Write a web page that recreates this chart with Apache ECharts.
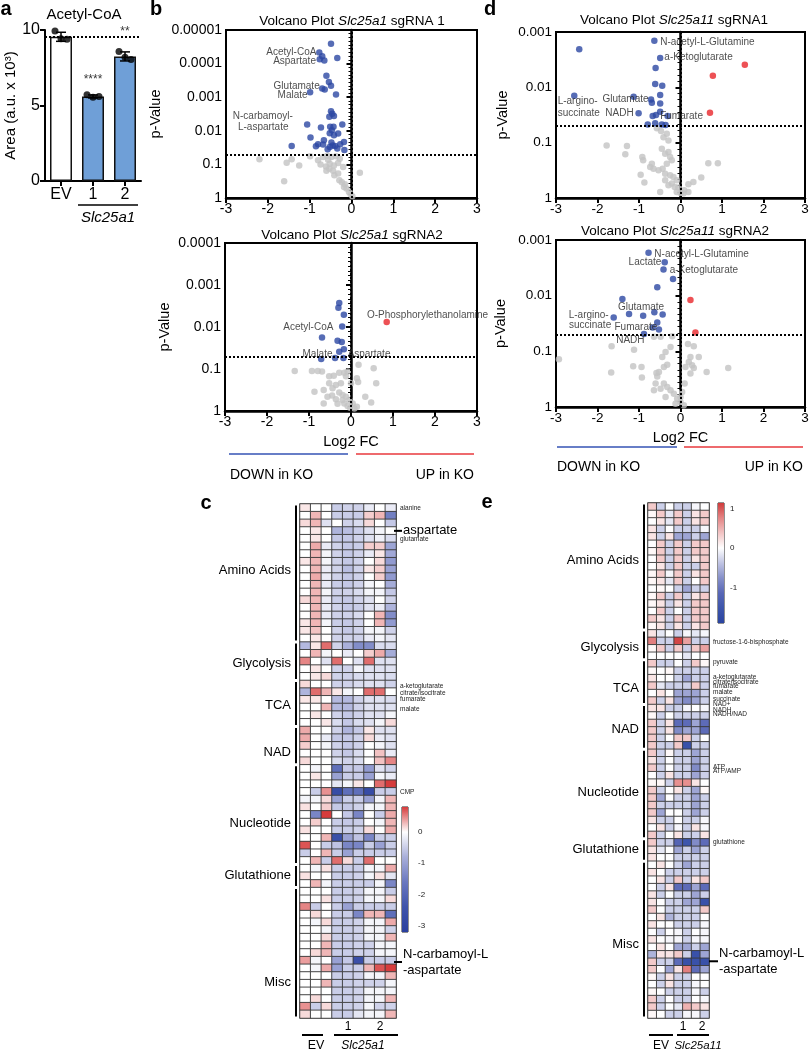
<!DOCTYPE html>
<html><head><meta charset="utf-8">
<script src="https://cdn.jsdelivr.net/npm/echarts@6/dist/echarts.min.js"></script>
<style>html,body{margin:0;padding:0;background:#fff}#chart{width:809px;height:1050px}</style>
</head><body><div id="chart"></div>
<script>
// ================= DATA =================
// Panel a
const barCats = ['EV', '1', '2'];
const barValues = [9.55, 5.6, 8.25];
const barErr = [0.3, 0.1, 0.3];
const barPoints = [[0, 9.93], [0, 9.42], [0, 9.38], [1, 5.72], [1, 5.55], [1, 5.6], [2, 8.57], [2, 8.2], [2, 8.05]];
const sigLabels = [[1, 6.7, '****'], [2, 9.9, '**']];

// Volcano plots: [log2FC, -log10(p)]
const pTickLabels = ['1', '0.1', '0.01', '0.001', '0.0001', '0.00001'];
const pThreshold = 0.05;

const bTopBlue = [[-0.49,4.59],[-0.77,4.33],[-0.70,4.22],[-0.76,4.13],[-0.65,4.09],[-0.34,4.17],[-0.60,3.64],[-0.54,3.45],[-0.49,3.34],[-0.70,3.26],[-0.64,3.23],[-0.99,3.15],[-0.37,3.08],[-0.49,2.58],[-0.46,2.51],[-0.42,2.44],[-0.53,2.42],[-1.06,2.19],[-0.73,2.10],[-0.51,2.12],[-0.43,2.12],[-0.22,2.19],[-0.47,2.02],[-0.52,1.93],[-0.42,1.87],[-0.32,1.92],[-0.98,1.80],[-0.66,1.72],[-0.80,1.60],[-0.48,1.65],[-0.39,1.55],[-0.27,1.60],[-0.18,1.67],[-0.85,1.54],[-0.52,1.52],[-0.57,1.45],[-1.43,1.55],[-0.17,1.43],[-0.34,1.47],[-0.68,1.59],[-0.45,1.56]];
const bTopRed = [];
const bTopGrey = [[-2.20,1.15],[-1.55,1.05],[-1.43,1.15],[-1.25,0.97],[-1.61,0.50],[-0.99,1.24],[-0.80,1.12],[-0.68,1.22],[-0.58,1.26],[-0.48,1.22],[-0.37,1.24],[-0.28,1.17],[-0.74,1.00],[-0.61,0.94],[-0.52,1.02],[-0.42,0.97],[-0.32,1.04],[-0.53,0.87],[-0.44,0.81],[-0.32,0.73],[-0.20,0.92],[-0.29,0.53],[-0.23,0.47],[-0.16,0.41],[-0.12,0.28],[-0.06,0.18],[-0.02,0.11],[0.02,0.05],[0.20,0.75],[-0.18,0.33],[-0.41,0.68],[-0.60,0.81],[-0.56,1.14]];
const bTopNotes = [[-0.84,4.33,'Acetyl-CoA','right'],[-0.85,4.06,'Aspartate','right'],[-0.76,3.34,'Glutamate','right'],[-1.05,3.06,'Malate','right'],[-2.12,2.42,'N-carbamoyl-','center'],[-2.11,2.10,'L-aspartate','center']];

const bBotBlue = [[-0.28,2.57],[-0.30,2.46],[-0.17,2.29],[-0.21,2.01],[-0.69,1.75],[-0.32,1.67],[-0.22,1.64],[-0.17,1.47],[-0.28,1.41],[-0.38,1.26],[-0.18,1.26],[-0.71,1.24]];
const bBotRed = [[0.85,2.12]];
const bBotGrey = [[-1.34,0.95],[-0.93,0.95],[-0.79,0.95],[-0.69,0.94],[-0.52,0.83],[-0.41,0.84],[-0.28,0.91],[-0.16,0.91],[-0.08,0.94],[-0.12,0.83],[0.18,1.10],[0.54,1.02],[0.60,0.66],[0.14,0.78],[0.17,0.69],[-0.87,0.46],[-0.65,0.50],[-0.52,0.66],[-0.36,0.62],[-0.28,0.44],[-0.20,0.38],[-0.12,0.34],[-0.04,0.26],[0.04,0.18],[-0.20,0.26],[-0.36,0.28],[-0.65,0.18],[-0.02,0.08],[0.08,0.06],[0.14,0.10],[0.34,0.34],[0.48,0.20],[-0.45,0.37],[0.00,0.66],[-0.24,0.66],[-0.44,0.54],[-0.16,0.18],[-0.08,0.12],[-0.32,0.17],[-0.56,0.34]];
const bBotNotes = [[0.38,2.27,'O-Phosphorylethanolamine','left'],[-0.42,2.0,'Acetyl-CoA','right'],[-0.44,1.36,'Malate','right'],[-0.08,1.36,'Aspartate','left']];

const dTopBlue = [[-0.63,2.84],[-2.44,2.69],[-0.49,2.53],[-0.60,2.35],[-0.61,2.06],[-0.44,2.03],[-2.56,1.85],[-1.13,1.83],[-0.49,1.86],[-0.71,1.78],[-0.69,1.72],[-0.49,1.71],[-1.01,1.53],[-0.49,1.56],[-0.67,1.48],[-0.59,1.50],[-0.31,1.48],[-0.79,1.33],[-0.61,1.35],[-0.45,1.33],[-0.36,1.32]];
const dTopRed = [[1.55,2.41],[0.78,2.21],[0.71,1.54]];
const dTopGrey = [[-1.78,0.95],[-1.29,0.94],[-1.33,0.79],[-0.92,0.74],[-0.90,0.68],[-0.96,0.42],[-0.87,0.28],[-0.73,0.56],[0.90,0.63],[0.67,0.63],[0.50,0.37],[0.31,0.29],[0.19,0.25],[0.09,0.14],[0.00,0.09],[-0.57,1.26],[-0.47,1.21],[-0.41,1.10],[-0.33,1.16],[-0.29,1.04],[-0.45,0.89],[-0.37,0.80],[-0.29,0.83],[-0.25,0.74],[-0.21,0.68],[-0.33,0.62],[-0.43,0.53],[-0.53,0.50],[-0.37,0.44],[-0.25,0.41],[-0.17,0.38],[-0.09,0.32],[-0.21,0.26],[-0.29,0.23],[-0.14,0.20],[-0.05,0.19],[-0.49,0.11],[-0.65,0.53],[-0.69,0.62],[-0.37,0.32],[-0.09,0.11],[0.07,0.08],[0.19,0.11]];
const dTopNotes = [[-0.49,2.82,'N-acetyl-L-Glutamine','left'],[-0.39,2.54,'a-Ketoglutarate','left'],[-2.96,1.74,'L-argino-','left'],[-2.96,1.53,'succinate','left'],[-0.77,1.78,'Glutamate','right'],[-1.13,1.53,'NADH','right'],[-0.49,1.47,'Fumarate','left']];

const dBotBlue = [[-0.77,2.77],[-0.38,2.60],[-0.41,2.47],[-0.18,2.30],[-0.56,2.15],[-1.40,1.94],[-1.24,1.67],[-1.61,1.61],[-0.90,1.64],[-0.63,1.70],[-0.43,1.66],[-0.56,1.52],[-0.67,1.43],[-0.52,1.39],[-0.88,1.31]];
const dBotRed = [[0.24,1.92],[0.36,1.34]];
const dBotGrey = [[-2.93,0.86],[-1.66,1.09],[-1.67,0.62],[-1.14,0.73],[-1.12,1.03],[-0.94,0.72],[-0.93,0.53],[-0.58,0.61],[0.18,1.13],[0.32,1.09],[0.44,0.90],[0.32,0.70],[0.63,0.63],[1.15,0.70],[-0.52,0.63],[-0.56,0.55],[-0.44,0.90],[-0.36,0.99],[-0.24,1.08],[-0.40,0.72],[-0.32,0.76],[-0.48,1.26],[-0.64,1.26],[-0.20,1.27],[0.20,0.81],[0.12,0.72],[0.24,0.60],[0.10,0.42],[0.04,0.27],[0.00,0.18],[-0.08,0.15],[-0.16,0.24],[-0.24,0.30],[-0.32,0.36],[-0.40,0.42],[-0.48,0.33],[-0.60,0.42],[-0.64,0.30],[-0.36,0.18],[0.00,0.09],[0.08,0.03],[-0.12,0.06],[0.24,0.90],[0.28,0.75]];
const dBotNotes = [[-0.63,2.75,'N-acetyl-L-Glutamine','left'],[-0.46,2.60,'Lactate','right'],[-0.26,2.45,'a-Ketoglutarate','left'],[-0.95,1.80,'Glutamate','center'],[-1.73,1.64,'L-argino-','right'],[-1.67,1.46,'succinate','right'],[-1.59,1.44,'Fumarate','left'],[-1.55,1.20,'NADH','left']];

// Heatmap c (Slc25a1): columns EV x3, sgRNA1 x3, sgRNA2 x3
const heatCCols = ['EV-1','EV-2','EV-3','1-1','1-2','1-3','2-1','2-2','2-3'];
const heatC = [
[0.1,0,0,-0.5,-0.45,-0.45,-0.2,0,-0.2],
[0,0.3,0,-0.5,-0.5,-0.5,0.2,0.3,-1.5],
[0.15,0.3,-0.3,0,-0.45,-0.35,0.15,0,-0.55],
[0,0.1,0,-0.75,-0.65,-0.5,-0.3,-0.1,0],
[0,0.1,0,-0.55,-0.55,-0.45,-0.3,-0.15,-0.35],
[0,0.35,-0.2,-0.45,-0.55,-0.5,0.2,0.2,-0.95],
[0,0.3,-0.1,-0.45,-0.55,-0.45,-0.2,0.1,-0.9],
[0.1,0.3,-0.1,-0.45,-0.55,-0.45,0,0.15,-1.1],
[0,0.3,-0.2,-0.45,-0.65,-0.45,0.1,0.2,-1.0],
[0,0.35,-0.2,-0.45,-0.55,-0.45,0,0.2,-1.1],
[0,0.3,-0.2,-0.5,-0.55,-0.45,-0.1,0,-0.85],
[0,0.3,-0.1,-0.45,-0.45,-0.35,-0.1,-0.1,-0.55],
[0.15,0.3,-0.2,-0.5,-0.55,-0.45,-0.3,0,-0.45],
[0,0.3,-0.2,-0.45,-0.55,-0.5,-0.3,-0.2,-0.75],
[0,0.3,-0.2,-0.45,-0.45,-0.35,0,0.3,-1.3],
[0.1,0.3,-0.1,-0.5,-0.55,-0.45,0,0.3,-1.1],
[0.1,0.25,0,-0.45,-0.55,-0.45,-0.1,-0.1,-0.45],
[0,0.1,0,-0.45,-0.45,-0.45,-0.2,-0.1,-0.25],
[-0.7,0.1,0.6,-0.45,-0.8,-1.3,-1.3,-0.35,-0.35],
[0,0.3,-0.1,0,-0.2,0,0.2,0.35,-0.85],
[0.5,0,-0.3,0.6,0,-0.3,0.6,-0.3,-0.3],
[0,0.1,0,-0.45,-0.45,-0.1,-0.3,-0.3,-0.3],
[0,0.1,0.15,-0.45,-0.45,-0.35,-0.3,-0.3,-0.35],
[0.15,0,0,-0.45,-0.45,-0.35,-0.3,-0.3,-0.45],
[-0.75,0.6,0.3,0.1,-0.1,0,0.6,0.6,0],
[0.1,0.1,0,-0.7,-0.7,-0.45,-0.3,-0.3,-0.35],
[0,0,0.3,-0.7,-0.7,-0.45,-0.3,-0.3,-0.3],
[0,0.1,0,-0.45,-0.55,-0.45,-0.3,-0.3,-0.1],
[0,0,0.1,-0.35,-0.55,-0.35,-0.3,-0.1,0.15],
[0.35,0,0,-0.45,-0.75,-0.55,0.1,-0.3,-0.3],
[0.35,0,-0.2,-0.55,-0.55,-0.45,0.15,-0.2,-0.3],
[0.2,0,-0.1,-0.45,-0.55,-0.45,0,-0.1,-0.3],
[0,0,0,-0.45,-0.55,-0.35,0,0.25,-0.2],
[0.15,0,0,-0.35,-0.45,-0.35,0,0.25,0.5],
[0,-0.1,0,-1.8,-0.55,-0.55,-1.1,-0.3,-0.45],
[0,0.1,0,-1.0,-0.5,-0.5,-1.0,-0.1,-0.2],
[0,0,0,-0.25,-0.1,0.1,0,0.6,0.8],
[0,-0.5,0.45,-2.7,-1.8,-1.8,-2.7,-0.5,-0.5],
[-0.1,-0.1,0.15,-1.0,-0.5,-0.5,-1.0,-0.1,0.3],
[0.12,0,0.2,-0.55,-0.55,-0.45,-0.1,-0.1,0.3],
[0,-1.4,0.8,0,-0.55,-1.4,0,-0.5,0.35],
[0,0.2,0,-0.5,-0.55,-0.5,0,-0.1,0.3],
[0.12,0,0,-0.5,-0.5,-0.45,0.15,0,0.35],
[0,0,0.3,-2.6,-1.0,-0.6,-1.4,-0.5,-0.5],
[0.7,0,-0.5,-0.6,-1.4,-1.4,-0.5,-1.0,-0.5],
[-0.5,0,0.3,-0.5,-1.0,-0.5,-0.5,-0.5,-0.5],
[0,0.3,-0.5,0.6,0.15,-0.5,0.6,0,0],
[0,-0.1,0.12,-0.5,-0.5,-0.5,-0.1,-0.1,0.35],
[0.12,0,0,-0.5,-0.5,-0.45,-0.1,0.12,-0.25],
[0,0.3,-0.1,-0.5,-0.5,-0.5,-0.5,-0.1,-1.4],
[0,0,0,-0.5,-0.5,-0.45,-0.1,-0.1,-0.5],
[0,0,0.12,-0.5,-0.5,-0.45,-0.1,-0.1,0.15],
[0.5,-0.5,0,-0.5,-1.0,-0.5,-0.5,-0.5,-0.5],
[0,0.15,0,-0.5,-0.5,-1.4,0.3,0.3,-1.8],
[0,-0.1,0.15,-0.5,-0.5,-0.45,-0.1,-0.1,0.35],
[0,0,-0.1,-0.5,-0.5,-0.45,-0.1,-0.1,-0.45],
[0,0,0.15,-0.5,-0.5,-0.45,-0.1,-0.1,0.3],
[0,0,0.3,-0.5,-0.5,-0.45,-0.45,-0.1,-0.1],
[0,0.15,0.3,-0.5,-0.5,-0.45,-0.45,-0.1,-0.1],
[0.4,-0.1,0,-1.0,-0.55,-2.6,-0.5,-0.5,-0.5],
[0,-0.1,0.35,-1.0,-0.5,-0.5,0.3,0.7,0.8],
[0,0,0,-0.5,-0.5,-0.45,-0.1,-0.1,0.3],
[0,0,0.3,-0.5,-0.5,-0.45,-0.45,-0.45,-0.1],
[0,0,0,-0.5,-0.5,-0.45,-0.1,-0.1,-0.1],
[0,0.15,0,-0.5,-0.5,-0.45,-0.1,-0.1,0.3],
[0.45,-0.5,0.15,-0.5,-0.5,-0.45,-0.1,-0.45,-0.45],
[0.15,0,0,-0.5,-0.5,-0.25,-0.1,-0.1,0.3]
];
const heatCGroups = [['Amino Acids',0,17],['Glycolysis',18,22],['TCA',23,28],['NAD',29,33],['Nucleotide',34,46],['Glutathione',47,49],['Misc',50,66]];
const heatCSideLabels = [['alanine',0],['glutamate',4],['a-ketoglutarate',23],['citrate/isocitrate',24],['fumarate',25],['malate',26],['CMP',37]];
const heatCPointerLabels = [['aspartate',3],['N-carbamoyl-L\n-aspartate',59]];
const heatCScale = [-3, -2, -1, 0];

// Heatmap e (Slc25a11): columns EV x3, sgRNA1 x2, sgRNA2 x2
const heatECols = ['EV-1','EV-2','EV-3','1-1','1-2','2-1','2-2'];
const heatE = [
[0.35,-0.3,0,-0.3,-0.3,-0.05,0],
[0.05,0.35,-0.15,0.35,-0.3,0.18,0.35],
[0,0.18,-0.15,0.35,-0.3,0.18,0.35],
[0.18,-0.3,0,-0.3,-0.3,-0.3,-0.05],
[0.18,-0.3,0.18,-0.6,-0.6,-0.3,-0.6],
[0,0.35,-0.3,0.35,-0.3,0.35,0.35],
[0.05,0.35,-0.3,0.35,-0.3,0.35,0.35],
[0,0.35,-0.3,0.35,-0.3,0.18,0.35],
[0,0.18,-0.3,0.35,-0.3,-0.3,0.35],
[0.05,0.35,-0.05,0.35,-0.3,0.18,0.35],
[0.05,0.18,-0.15,0.35,-0.3,0,0.35],
[0,0.05,0,-0.3,-0.6,-0.3,-0.3],
[0.05,0.35,-0.3,0.35,-0.3,0.18,0.35],
[0.05,0.18,-0.3,0.18,-0.3,0.35,0.35],
[0,0.35,-0.3,0,-0.3,0.35,0.35],
[0.35,0.18,-0.3,0.35,-0.3,0.35,0.35],
[0.05,0.18,-0.3,0.18,-0.3,0.18,0.35],
[0.18,-0.15,0,-0.3,-0.05,-0.15,-0.05],
[0.8,-0.3,-0.3,1.1,0.6,-0.3,-0.3],
[0.05,0.35,-0.3,0.35,-0.3,0.35,0.6],
[0,0,0,0,-0.15,0,0],
[0.35,-0.3,-0.3,0,-0.3,0.35,0.05],
[0.05,0,0.05,-0.3,-0.3,-0.3,-0.3],
[0.18,0,0,-0.3,-0.6,-0.3,-0.3],
[0.35,-0.15,-0.3,-0.3,-0.3,0.35,-0.3],
[0,0.18,0,-0.6,-0.6,-0.6,-0.3],
[0.35,-0.3,0.18,-0.6,-0.8,-0.6,-0.3],
[0.18,0.18,-0.3,-0.3,-0.05,0,-0.05],
[0.05,-0.3,0,-0.3,-0.3,-0.3,-0.3],
[0.35,-0.3,0.18,-1.1,-1.1,-0.6,-1.1],
[0.35,-0.3,0.18,-0.8,-0.6,-0.6,-1.1],
[0.35,-0.3,0,0.35,0.35,-0.3,0],
[0.35,-0.3,-0.3,0.35,-1.6,-0.3,-0.3],
[0.35,-0.3,0.05,-0.3,-0.3,-0.6,-0.3],
[0.18,-0.3,0,-0.3,-0.3,-0.6,-0.3],
[0.35,-0.3,0,-0.3,-0.3,-0.8,-0.3],
[0,-0.3,0.18,-0.3,-0.3,-0.6,-0.3],
[0.05,0.05,-0.3,0.7,0.7,0.18,0],
[0.35,-0.3,0,0.18,-0.3,-0.6,0.05],
[0.35,-0.6,0,-0.3,-0.3,-0.6,-0.3],
[0.35,-0.3,-0.3,-0.3,-0.3,-0.6,-0.3],
[0.35,-0.6,0,0,-0.3,-0.6,-0.3],
[0.18,-0.3,-0.3,0,-0.3,-0.3,-0.05],
[0,0.18,-0.3,-0.05,-0.3,0.18,-0.05],
[0.35,-0.3,0,0.18,-0.3,-0.3,0.18],
[0.35,-0.3,-0.3,-1.2,-1.5,-0.8,-1.1],
[0.18,-0.15,0,-0.6,-0.3,-0.6,-0.3],
[0.18,0,0,-0.3,-0.3,-0.3,-0.3],
[0,0.18,0,-0.3,-0.6,-0.3,-0.3],
[0.18,0,-0.3,-0.3,-0.3,-0.3,-0.3],
[0,0.18,-0.3,0.35,-0.3,0.18,0.35],
[0,-0.3,0.18,-1.1,-1.1,-0.6,-1.1],
[0.18,-0.3,0,-0.3,-0.3,-0.6,-0.3],
[0.18,0,-0.3,-0.3,-0.6,-0.6,-1.6],
[0.35,0,-0.3,-0.3,-0.3,-0.3,0.35],
[0,0.18,-0.5,-0.3,-0.3,-0.3,0],
[0.18,0,0,-0.3,-0.3,-0.3,-0.05],
[0,-0.3,0,-0.05,-0.3,0,-0.05],
[0.18,0,-0.05,-0.05,-0.3,-0.05,-0.05],
[0,0.18,0,-0.6,-0.6,-0.3,-0.6],
[-0.5,0.18,0.18,0.35,-0.3,-1.6,-0.6],
[0.35,-0.3,-0.3,-1.1,-1.6,-1.6,-1.6],
[0.35,0,-0.6,0.18,0.8,-1.1,-0.6],
[0.05,-0.3,0.18,-0.3,-0.3,0,0],
[0,-0.3,0.18,-0.3,-0.3,-0.05,0],
[0.05,0,-0.3,-0.3,-0.3,-0.05,-0.3],
[0.35,-0.3,0,-0.3,-0.3,0,-0.05],
[0.35,-0.3,0,-0.15,0.5,0.35,0.18],
[0.05,0,-0.3,-0.3,-0.05,-0.05,-0.3]
];
const heatEGroups = [['Amino Acids',0,16],['Glycolysis',17,20],['TCA',21,26],['NAD',27,32],['Nucleotide',33,44],['Glutathione',45,47],['Misc',48,68]];
const heatESideLabels = [['fructose-1-6-bisphosphate',18],['pyruvate',21],['a-ketoglutarate',22],['citrate/isocitrate',23],['fumarate',24],['malate',25],['succinate',26],['NAD+',27],['NADH',28],['NADH/NAD',29],['ATP',35],['ATP/AMP',36],['glutathione',45]];
const heatEPointerLabels = [['N-carbamoyl-L\n-aspartate',61]];
const heatEScale = [-1, 0, 1];

// ================= LAYOUT / STYLE =================
const FONT = '"Liberation Sans", Arial, Helvetica, sans-serif';
const BLUE = '#2c47a3', RED = '#e8262b', GREY = '#c3c3c3';
// colour ramps (evenly spaced from min to max)
const cMin = -3.2, cMax = 0.8;
const cColors = ['#2a3f9e', '#3f54ab', '#6a78bf', '#a9afda', '#ffffff', '#d63c3c'];
const eMin = -1.9, eMax = 1.15;
const eColors = ['#2a44a0', '#3d55ab', '#5867b6', '#8690c9', '#c0c4e3', '#ffffff', '#f2c4c4', '#e48585', '#cf3b3b'];
// label y positions (in row units from top) for group names / side labels
const heatCGroupLabelPos = [8.6, 20.8, 26.2, 32.4, 41.7, 48.4, 62.4];
const heatEGroupLabelPos = [7.7, 19.4, 24.8, 30.4, 38.8, 46.4, 59.1];
const heatCSidePos = [0.55, 4.6, 23.7, 24.6, 25.5, 26.7, 37.6];
const heatESidePos = [18.65, 21.3, 23.3, 24.0, 24.6, 25.3, 26.3, 26.9, 27.7, 28.3, 35.4, 35.9, 45.5];
const heatCPointerPos = [3.5, 59.7];
const heatEPointerPos = [61.4];

const option = {
  animation: false,
  backgroundColor: '#fff',
  textStyle: { fontFamily: FONT, color: '#000' },
  grid: [], xAxis: [], yAxis: [], series: [], visualMap: [], graphic: []
};

function addGrid(g, x, y) {
  option.grid.push(Object.assign({ outerBoundsMode: 'none', containLabel: false }, g));
  const gi = option.grid.length - 1;
  option.xAxis.push(Object.assign({ gridIndex: gi }, x));
  option.yAxis.push(Object.assign({ gridIndex: gi }, y));
  return gi;
}
const blackLine = (w) => ({ show: true, lineStyle: { color: '#000', width: w } });

// ---------- Panel a ----------
const ga = addGrid({ left: 45, top: 30, width: 96, height: 151 },
  { type: 'category', data: barCats, axisLine: blackLine(2),
    axisTick: { show: true, alignWithLabel: true, length: 5, lineStyle: { color: '#000', width: 2 } },
    axisLabel: { fontSize: 16, color: '#000', margin: 6, fontFamily: FONT } },
  { type: 'value', min: 0, max: 10, interval: 5, axisLine: blackLine(2),
    axisTick: { show: true, length: 5, lineStyle: { color: '#000', width: 2 } },
    axisLabel: { fontSize: 16, color: '#000', margin: 5, fontFamily: FONT },
    splitLine: { show: false },
    name: 'Area (a.u. x 10³)', nameLocation: 'middle', nameGap: 27, nameMoveOverlap: false,
    nameTextStyle: { fontSize: 15, color: '#000', fontFamily: FONT } });
option.series.push({
  type: 'bar', xAxisIndex: ga, yAxisIndex: ga, barWidth: 22,
  data: barValues.map((v, i) => ({ value: v, itemStyle: { color: i === 0 ? '#ffffff' : '#6f9fd7' } })),
  itemStyle: { borderColor: '#111', borderWidth: 1.5 },
  markLine: { silent: true, symbol: 'none', label: { show: false },
    lineStyle: { type: 'dotted', color: '#000', width: 2 }, data: [{ yAxis: barValues[0] }] }
});
option.series.push({
  type: 'custom', xAxisIndex: ga, yAxisIndex: ga, z: 4,
  data: barValues.map((v, i) => [i, v, barErr[i]]),
  renderItem: (params, api) => {
    const x = api.coord([api.value(0), 0])[0];
    const hi = api.coord([api.value(0), api.value(1) + api.value(2)])[1];
    const lo = api.coord([api.value(0), api.value(1) - api.value(2)])[1];
    const st = { stroke: '#000', lineWidth: 1.5 };
    return { type: 'group', children: [
      { type: 'line', shape: { x1: x, y1: hi, x2: x, y2: lo }, style: st },
      { type: 'line', shape: { x1: x - 5, y1: hi, x2: x + 5, y2: hi }, style: st },
      { type: 'line', shape: { x1: x - 5, y1: lo, x2: x + 5, y2: lo }, style: st }
    ] };
  }
});
const pointDx = [-6, 0, 6];
option.series.push({
  type: 'scatter', xAxisIndex: ga, yAxisIndex: ga, z: 5, symbolSize: 7,
  itemStyle: { color: '#000' },
  data: barPoints.map((p, i) => ({ value: p, symbolOffset: [pointDx[i % 3], 0] }))
});
option.series.push({
  type: 'scatter', xAxisIndex: ga, yAxisIndex: ga, symbolSize: 0,
  data: sigLabels.map(s => ({ value: [s[0], s[1]], name: s[2] })),
  label: { show: true, position: 'inside', formatter: '{b}', fontSize: 12, color: '#000', fontFamily: FONT }
});

// ---------- Volcano panels ----------
const volcanoPanels = [
  { box: { left: 226, top: 30, width: 251, height: 168 }, yMax: 5, grey: bTopGrey, blue: bTopBlue, red: bTopRed, notes: bTopNotes, nameGap: 63, xName: '', fs: 14 },
  { box: { left: 225, top: 243, width: 252, height: 168 }, yMax: 4, grey: bBotGrey, blue: bBotBlue, red: bBotRed, notes: bBotNotes, nameGap: 53, xName: 'Log2 FC', fs: 14 },
  { box: { left: 556, top: 32, width: 249, height: 166 }, yMax: 3, grey: dTopGrey, blue: dTopBlue, red: dTopRed, notes: dTopNotes, nameGap: 46, xName: '', fs: 13.5 },
  { box: { left: 556, top: 240, width: 249, height: 167 }, yMax: 3, grey: dBotGrey, blue: dBotBlue, red: dBotRed, notes: dBotNotes, nameGap: 48, xName: 'Log2 FC', fs: 13.5 }
];
const thresholdL = -Math.log10(pThreshold);
volcanoPanels.forEach(p => {
  const gi = addGrid(Object.assign({ show: true, borderColor: '#000', borderWidth: 2, backgroundColor: 'transparent' }, p.box),
    { type: 'value', min: -3, max: 3, interval: 1, axisLine: blackLine(2.5),
      axisTick: { show: true, length: 5, lineStyle: { color: '#000', width: 2 } },
      axisLabel: { fontSize: p.fs, color: '#000', margin: 4, fontFamily: FONT },
      splitLine: { show: false },
      name: p.xName, nameLocation: 'middle', nameGap: 23, nameMoveOverlap: false,
      nameTextStyle: { fontSize: 14.5, color: '#000', fontFamily: FONT } },
    { type: 'value', min: 0, max: p.yMax, interval: 1, axisLine: blackLine(2.5),
      axisTick: { show: true, length: 5, lineStyle: { color: '#000', width: 2 } },
      minorTick: { show: true, splitNumber: 9, length: 3, lineStyle: { color: '#000', width: 1 } },
      axisLabel: { fontSize: p.fs, color: '#000', margin: 4, fontFamily: FONT, formatter: v => pTickLabels[Math.round(v)] },
      splitLine: { show: false }, minorSplitLine: { show: false },
      name: 'p-Value', nameLocation: 'middle', nameGap: p.nameGap, nameMoveOverlap: false,
      nameTextStyle: { fontSize: 14.5, color: '#000', fontFamily: FONT } });
  option.series.push({
    type: 'scatter', xAxisIndex: gi, yAxisIndex: gi, data: p.grey, symbolSize: 6.5, itemStyle: { color: GREY }, z: 2,
    markLine: { silent: true, symbol: 'none', label: { show: false },
      lineStyle: { type: 'dotted', color: '#000', width: 2 },
      data: [{ xAxis: 0 }, { yAxis: thresholdL }] }
  });
  option.series.push({ type: 'scatter', xAxisIndex: gi, yAxisIndex: gi, data: p.blue, symbolSize: 6.5, itemStyle: { color: BLUE }, z: 3 });
  option.series.push({ type: 'scatter', xAxisIndex: gi, yAxisIndex: gi, data: p.red, symbolSize: 6.5, itemStyle: { color: RED }, z: 3 });
  option.series.push({
    type: 'scatter', xAxisIndex: gi, yAxisIndex: gi, symbolSize: 0, z: 6,
    data: p.notes.map(n => ({ value: [n[0], n[1]], name: n[2], label: { align: n[3] } })),
    label: { show: true, position: 'inside', formatter: '{b}', fontSize: 10, color: '#222', fontFamily: FONT, verticalAlign: 'middle' }
  });
});

// ---------- Heatmaps ----------
function heatmapPanel(box, cols, rows, groups, groupPos, side, sidePos, ptr, ptrPos, vmin, vmax, colors, cbBox, cbTicks, cbMargin, ptrStart, ptrLen) {
  const gi = addGrid(Object.assign({ show: true, borderColor: '#222', borderWidth: 1.2, backgroundColor: 'transparent' }, box),
    { type: 'category', data: cols, show: false },
    { type: 'category', data: rows.map((r, i) => 'r' + i), inverse: true, show: false });
  const data = [];
  rows.forEach((r, ri) => r.forEach((v, ci) => data.push([ci, ri, v])));
  option.series.push({
    type: 'heatmap', xAxisIndex: gi, yAxisIndex: gi, data: data,
    itemStyle: { borderColor: '#3a3a3a', borderWidth: 0.9 }
  });
  const hIdx = option.series.length - 1;
  option.visualMap.push({ type: 'continuous', show: false, seriesIndex: hIdx, min: vmin, max: vmax, inRange: { color: colors } });
  const nRows = rows.length;
  // group brackets + names
  option.series.push({
    type: 'custom', xAxisIndex: gi, yAxisIndex: gi, z: 5, silent: true,
    data: groups.map((g, i) => [g[1], g[2], groupPos[i]]),
    renderItem: (params, api) => {
      const cs = params.coordSys; const h = cs.height / nRows;
      const y0 = cs.y + api.value(0) * h + 1.5, y1 = cs.y + (api.value(1) + 1) * h - 1.5;
      const x = cs.x - 4;
      return { type: 'group', children: [
        { type: 'line', shape: { x1: x, y1: y0, x2: x, y2: y1 }, style: { stroke: '#000', lineWidth: 2 } },
        { type: 'text', x: cs.x - 9, y: cs.y + api.value(2) * h,
          style: { text: groups[params.dataIndex][0], fontSize: 13, fontFamily: FONT, fill: '#000', align: 'right', verticalAlign: 'middle' } }
      ] };
    }
  });
  // small side labels
  option.series.push({
    type: 'custom', xAxisIndex: gi, yAxisIndex: gi, z: 5, silent: true,
    data: side.map((s, i) => [s[1], sidePos[i]]),
    renderItem: (params, api) => {
      const cs = params.coordSys; const h = cs.height / nRows;
      return { type: 'text', x: cs.x + cs.width + 4, y: cs.y + api.value(1) * h,
        style: { text: side[params.dataIndex][0], fontSize: 6.5, fontFamily: FONT, fill: '#222', align: 'left', verticalAlign: 'middle' } };
    }
  });
  // pointer labels
  option.series.push({
    type: 'custom', xAxisIndex: gi, yAxisIndex: gi, z: 6, silent: true,
    data: ptr.map((s, i) => [s[1], ptrPos[i]]),
    renderItem: (params, api) => {
      const cs = params.coordSys; const h = cs.height / nRows;
      const y = cs.y + api.value(1) * h; const xr = cs.x + cs.width;
      return { type: 'group', children: [
        { type: 'line', shape: { x1: xr + ptrStart, y1: y, x2: xr + ptrStart + ptrLen, y2: y }, style: { stroke: '#000', lineWidth: 2 } },
        { type: 'text', x: xr + ptrStart + ptrLen + 1, y: y,
          style: { text: ptr[params.dataIndex][0], fontSize: 13, lineHeight: 16, fontFamily: FONT, fill: '#000', align: 'left', verticalAlign: 'middle' } }
      ] };
    }
  });
  // colour bar
  const cg = addGrid(Object.assign({ show: true, borderColor: '#222', borderWidth: 1, backgroundColor: 'transparent' }, cbBox),
    { type: 'category', data: ['scale'], show: false },
    { type: 'value', min: vmin, max: vmax, position: 'right',
      axisLine: { show: false },
      axisTick: { show: true, inside: true, length: cbBox.width, customValues: cbTicks, lineStyle: { color: '#111', width: 1.5 } },
      axisLabel: { show: true, customValues: cbTicks, fontSize: 8, color: '#222', margin: cbMargin, fontFamily: FONT },
      splitLine: { show: false } });
  const n = colors.length;
  option.series.push({
    type: 'custom', xAxisIndex: cg, yAxisIndex: cg, z: 1, silent: true,
    data: [[0, vmin, vmax]],
    renderItem: (params, api) => {
      const cs = params.coordSys;
      const top = api.coord([0, api.value(2)])[1], bot = api.coord([0, api.value(1)])[1];
      const stops = colors.map((c, i) => ({ offset: 1 - i / (n - 1), color: c })).reverse();
      return { type: 'rect', shape: { x: cs.x, y: top, width: cs.width, height: bot - top },
        style: { fill: new echarts.graphic.LinearGradient(0, 0, 0, 1, stops) } };
    }
  });
}
heatmapPanel({ left: 300, top: 504, width: 96, height: 514 }, heatCCols, heatC, heatCGroups, heatCGroupLabelPos,
  heatCSideLabels, heatCSidePos, heatCPointerLabels, heatCPointerPos, cMin, cMax, cColors,
  { left: 402, top: 807, width: 6, height: 125 }, heatCScale, 10, -2, 8);
heatmapPanel({ left: 648, top: 503, width: 61, height: 515 }, heatECols, heatE, heatEGroups, heatEGroupLabelPos,
  heatESideLabels, heatESidePos, heatEPointerLabels, heatEPointerPos, eMin, eMax, eColors,
  { left: 718, top: 503, width: 6, height: 120 }, heatEScale, 6, 0, 9);

// ---------- Free text & lines ----------
const T = (x, y, text, size, extra) => ({ type: 'text', x: x, y: y, z: 10,
  style: Object.assign({ text: text, fontSize: size, fontFamily: FONT, fill: '#000', align: 'center', verticalAlign: 'middle' }, extra || {}) });
const Ln = (x1, y1, x2, y2, color, w) => ({ type: 'line', z: 10, shape: { x1, y1, x2, y2 }, style: { stroke: color || '#000', lineWidth: w || 2 } });
const rich = (size) => ({ rich: { n: { fontSize: size, fontFamily: FONT }, i: { fontSize: size, fontFamily: FONT, fontStyle: 'italic' } } });
option.graphic = [
  T(6, 9, 'a', 20, { fontWeight: 'bold' }),
  T(156, 9, 'b', 20, { fontWeight: 'bold' }),
  T(490, 9, 'd', 20, { fontWeight: 'bold' }),
  T(206, 503, 'c', 20, { fontWeight: 'bold' }),
  T(487, 502, 'e', 20, { fontWeight: 'bold' }),
  T(84, 15, 'Acetyl-CoA', 15),
  Ln(78, 205, 138, 205, '#000', 1.5),
  T(108, 218, 'Slc25a1', 15, { fontStyle: 'italic' }),
  T(352, 21, '{n|Volcano Plot }{i|Slc25a1}{n| sgRNA 1}', 13.5, rich(13.5)),
  T(352, 235, '{n|Volcano Plot }{i|Slc25a1}{n| sgRNA2}', 13.5, rich(13.5)),
  T(674, 20, '{n|Volcano Plot }{i|Slc25a11}{n| sgRNA1}', 13.5, rich(13.5)),
  T(675, 231, '{n|Volcano Plot }{i|Slc25a11}{n| sgRNA2}', 13.5, rich(13.5)),
  Ln(229, 454, 348, 454, '#3553b5', 1.5), Ln(356, 454, 474, 454, '#e8383d', 1.5),
  T(230, 475, 'DOWN in KO', 14, { align: 'left' }), T(474, 475, 'UP in KO', 14, { align: 'right' }),
  Ln(557, 447, 677, 447, '#3553b5', 1.5), Ln(684, 447, 803, 447, '#e8383d', 1.5),
  T(557, 467, 'DOWN in KO', 14, { align: 'left' }), T(803, 467, 'UP in KO', 14, { align: 'right' }),
  T(348, 1027, '1', 12), T(380, 1027, '2', 12),
  Ln(302, 1035, 323, 1035), Ln(334, 1035, 398, 1035),
  T(316, 1046, 'EV', 12.5), T(363, 1046, 'Slc25a1', 12, { fontStyle: 'italic' }),
  T(683, 1027, '1', 12), T(702, 1027, '2', 12),
  Ln(649, 1035, 673, 1035), Ln(677, 1035, 709, 1035),
  T(661, 1046, 'EV', 12), T(698, 1046, 'Slc25a11', 11.5, { fontStyle: 'italic' })
];

const chart = echarts.init(document.getElementById('chart'), null, { renderer: 'canvas' });
chart.setOption(option);
</script></body></html>
